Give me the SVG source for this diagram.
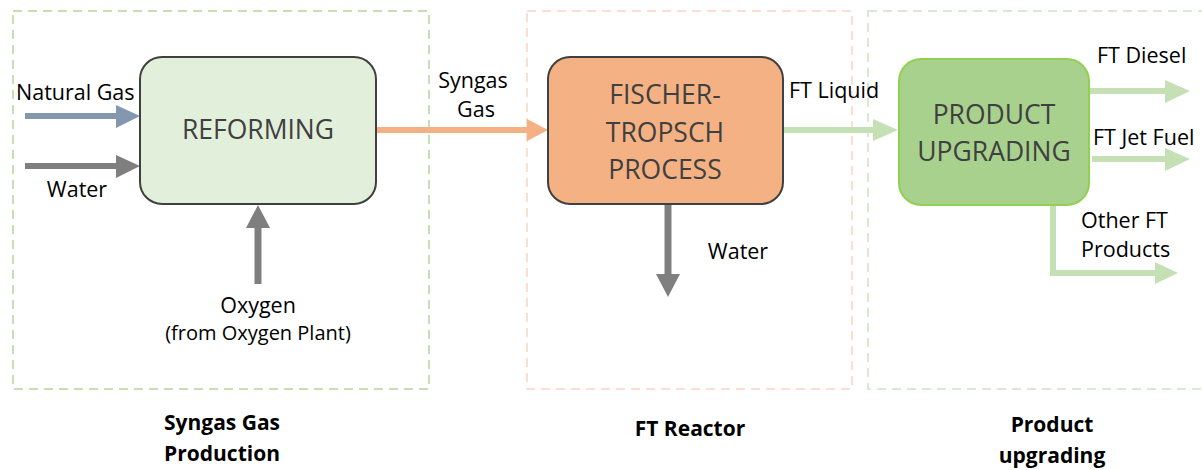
<svg xmlns="http://www.w3.org/2000/svg" width="1202" height="470" viewBox="0 0 1202 470">
<style>
.grp{fill:none;stroke-width:2;stroke-dasharray:9 6}
.lbl{font-family:"Open Sans","Liberation Sans",sans-serif;font-size:21.5px;fill:#000}
.sm{font-size:20px}
.box{font-family:"Open Sans","Liberation Sans",sans-serif;font-size:26.5px;fill:#404040;text-anchor:middle}
.ttl{font-family:"Open Sans","Liberation Sans",sans-serif;font-size:21px;font-weight:bold;fill:#000;text-anchor:middle}
</style>
<rect width="1202" height="470" fill="#fff"/>
<g id="group-syngas">
<rect class="grp" x="13" y="11" width="416" height="378" stroke="#c5e0b4"/>
<text class="ttl" x="222" y="430">Syngas Gas</text>
<text class="ttl" x="222" y="461">Production</text>
</g>
<g id="group-ft">
<rect class="grp" x="527" y="11" width="325" height="378" stroke="#fbe0d0"/>
<text class="ttl" x="690" y="436">FT Reactor</text>
</g>
<g id="group-upgrading">
<rect class="grp" x="868" y="11" width="345" height="378" stroke="#d9ead0"/>
<text class="ttl" x="1052" y="432">Product</text>
<text class="ttl" x="1052" y="463">upgrading</text>
</g>
<g id="connectors">
<path d="M25 116H117" stroke="#8497b0" stroke-width="6"/>
<path d="M116 105L140 116L116 128Z" fill="#8497b0"/>
<path d="M25 166H117" stroke="#7f7f7f" stroke-width="6"/>
<path d="M116 155L140 166L116 178Z" fill="#7f7f7f"/>
<path d="M258 284V226" stroke="#7f7f7f" stroke-width="7"/>
<path d="M246 228L258 205L270 228Z" fill="#7f7f7f"/>
<path d="M377 130H529" stroke="#f4b183" stroke-width="6"/>
<path d="M527 119L548 130L527 141Z" fill="#f4b183"/>
<path d="M668 205V276" stroke="#7f7f7f" stroke-width="7"/>
<path d="M656 274L668 297L680 274Z" fill="#7f7f7f"/>
<path d="M784 130H875" stroke="#c5e0b4" stroke-width="6"/>
<path d="M873 119L898 130L873 141Z" fill="#c5e0b4"/>
<path d="M1089 91H1167" stroke="#c5e0b4" stroke-width="6"/>
<path d="M1165 80L1190 91L1165 103Z" fill="#c5e0b4"/>
<path d="M1092 159H1167" stroke="#c5e0b4" stroke-width="6"/>
<path d="M1165 148L1190 159L1165 171Z" fill="#c5e0b4"/>
<path d="M1053 205V273H1157" stroke="#c5e0b4" stroke-width="6" fill="none"/>
<path d="M1155 262L1178 273L1155 284Z" fill="#c5e0b4"/>
<text class="lbl" x="16" y="100">Natural Gas</text>
<text class="lbl" x="77" y="197" text-anchor="middle">Water</text>
<text class="lbl" x="258" y="313" text-anchor="middle">Oxygen</text>
<text class="lbl sm" x="258" y="340" text-anchor="middle">(from Oxygen Plant)</text>
<text class="lbl" x="473" y="88" text-anchor="middle">Syngas</text>
<text class="lbl" x="476" y="117" text-anchor="middle">Gas</text>
<text class="lbl" x="738" y="259" text-anchor="middle">Water</text>
<text class="lbl" x="789" y="98">FT Liquid</text>
<text class="lbl" x="1097" y="63">FT Diesel</text>
<text class="lbl" x="1093" y="145">FT Jet Fuel</text>
<text class="lbl" x="1081" y="228">Other FT</text>
<text class="lbl" x="1081" y="257">Products</text>
</g>
<g id="node-reforming">
<rect x="140" y="57" width="236" height="147" rx="22" fill="#e2efda" stroke="#404040" stroke-width="2"/>
<text class="box" x="258" y="139">REFORMING</text>
</g>
<g id="node-ft">
<rect x="548" y="57" width="235" height="147" rx="22" fill="#f4b183" stroke="#404040" stroke-width="2"/>
<text class="box" x="665" y="104">FISCHER-</text>
<text class="box" x="665" y="142">TROPSCH</text>
<text class="box" x="665" y="179">PROCESS</text>
</g>
<g id="node-upgrading">
<rect x="899" y="59" width="190" height="146" rx="22" fill="#a9d18e" stroke="#92d050" stroke-width="2"/>
<text class="box" x="994" y="124">PRODUCT</text>
<text class="box" x="994" y="161">UPGRADING</text>
</g>
</svg>
